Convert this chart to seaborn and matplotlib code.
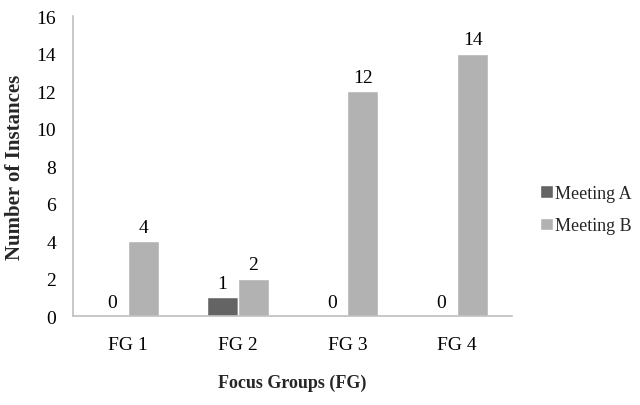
import matplotlib
matplotlib.use("Agg")
import matplotlib.pyplot as plt
import seaborn as sns
import pandas as pd

groups = ["FG 1", "FG 2", "FG 3", "FG 4"]
meeting_a = [0, 1, 0, 0]
meeting_b = [4, 2, 12, 14]

df = pd.DataFrame({
    "group": groups * 2,
    "meeting": ["Meeting A"] * 4 + ["Meeting B"] * 4,
    "count": meeting_a + meeting_b,
})

sns.set_theme(style="white")
plt.rcParams["font.family"] = ["Liberation Serif", "DejaVu Serif"]

fig = plt.figure(figsize=(6.4, 4.06), dpi=100)
ax = fig.add_axes([0.114, 0.219, 0.686, 0.739])

sns.barplot(data=df, x="group", y="count", hue="meeting",
            palette=["#646464", "#b2b2b2"], width=0.565, gap=0,
            saturation=1, ax=ax, legend=True)

for cont in ax.containers:
    ax.bar_label(cont, fmt="%d", padding=4, fontsize=14, color="black")

ax.set_ylim(0, 16)
ax.set_yticks(range(0, 17, 2))
ax.set_xlim(-0.5, 3.5)
ax.tick_params(axis="both", length=0, labelsize=14, colors="black")
ax.tick_params(axis="x", pad=14)
ax.tick_params(axis="y", pad=12)

for s in ["top", "right"]:
    ax.spines[s].set_visible(False)
for s in ["left", "bottom"]:
    ax.spines[s].set_color("#bfbfbf")
    ax.spines[s].set_linewidth(1.2)

ax.set_xlabel("Focus Groups (FG)", fontsize=13, fontweight="bold", labelpad=15)
ax.set_ylabel("Number of Instances", fontsize=15, fontweight="bold", labelpad=8)

leg = ax.legend(loc="center left", bbox_to_anchor=(1.035, 0.355), frameon=False,
                fontsize=13, handlelength=0.7, handleheight=0.7,
                handletextpad=0.15, labelspacing=0.85, borderaxespad=0.3)

fig.savefig("out.png", dpi=100)
